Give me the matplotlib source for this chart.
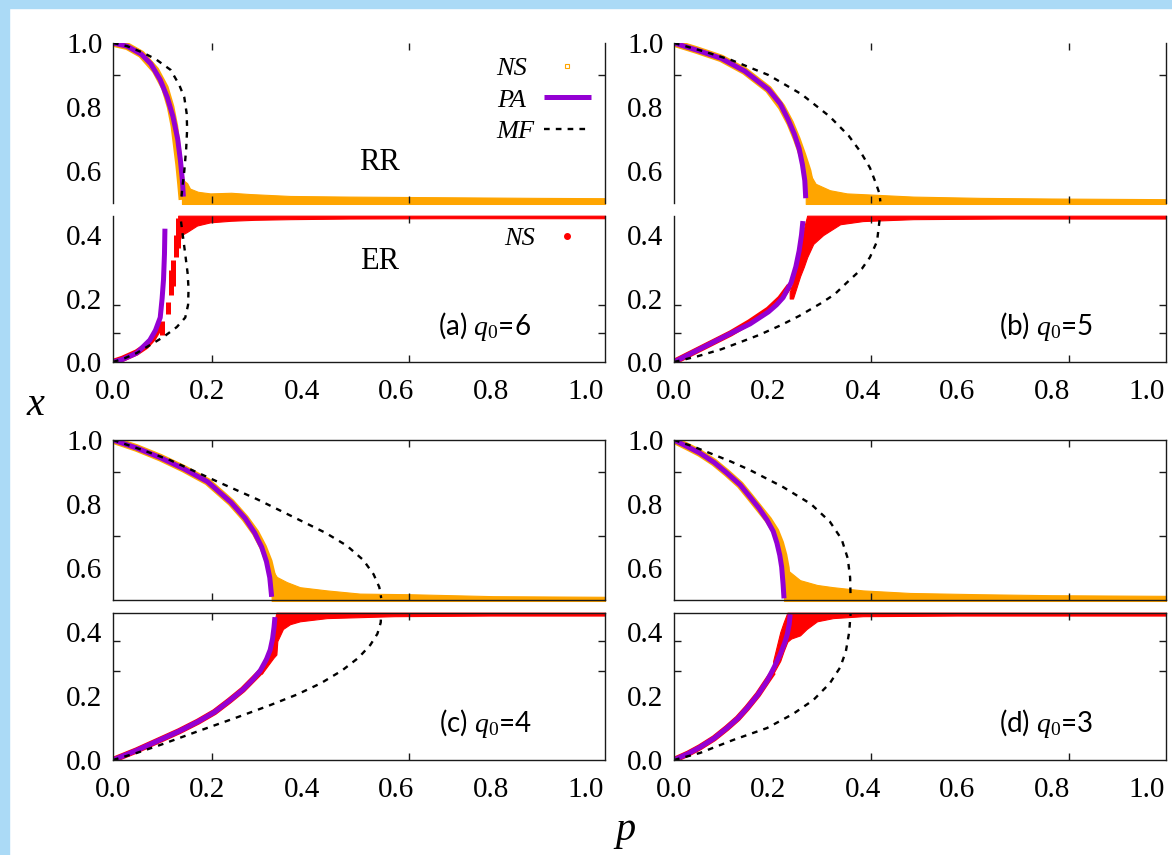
import matplotlib
matplotlib.use("Agg")
import matplotlib.pyplot as plt
from matplotlib.lines import Line2D
from matplotlib.patches import Rectangle
from matplotlib.font_manager import FontProperties

plt.rcParams['font.family'] = ['Liberation Serif', 'DejaVu Serif']
plt.rcParams['mathtext.fontset'] = 'custom'
plt.rcParams['mathtext.it'] = 'Liberation Serif:italic'
plt.rcParams['mathtext.rm'] = 'Liberation Serif'

# ---------------- data ----------------
PANEL_NAMES = ['a', 'b', 'c', 'd']
PANEL_Q0 = [6, 5, 4, 3]
X_TICKS = [0.0, 0.2, 0.4, 0.6, 0.8, 1.0]
X_TICK_LABELS = ['0.0', '0.2', '0.4', '0.6', '0.8', '1.0']
RR_TICKS = [0.6, 0.8, 1.0]
RR_TICK_LABELS = ['0.6', '0.8', '1.0']
ER_TICKS = [0.0, 0.2, 0.4]
ER_TICK_LABELS = ['0.0', '0.2', '0.4']
LEGEND_RR_LABELS = ['NS', 'PA', 'MF']
LEGEND_ER_LABELS = ['NS']

# (a) q0 = 6
PA_RR_A_P = [0, 0.03, 0.06, 0.08, 0.10, 0.115, 0.127, 0.137, 0.143, 0.147, 0.149]
PA_RR_A_X = [1.0, 0.99, 0.965, 0.935, 0.885, 0.83, 0.77, 0.70, 0.63, 0.57, 0.52]
PA_ER_A_P = [0, 0.02, 0.05, 0.078, 0.09, 0.10, 0.104, 0.107, 0.109, 0.110]
PA_ER_A_X = [0, 0.008, 0.028, 0.069, 0.10, 0.14, 0.20, 0.26, 0.34, 0.42]
MF_RR_A_P = [0, 0.03, 0.063, 0.09, 0.122, 0.14, 0.151, 0.156, 0.157, 0.155, 0.151, 0.147, 0.144]
MF_RR_A_X = [1.0, 0.99, 0.97, 0.95, 0.916, 0.87, 0.83, 0.78, 0.73, 0.67, 0.60, 0.55, 0.505]
MF_ER_A_P = [0, 0.025, 0.05, 0.078, 0.106, 0.135, 0.153, 0.159, 0.160, 0.158, 0.153, 0.146, 0.143]
MF_ER_A_X = [0, 0.012, 0.028, 0.053, 0.078, 0.11, 0.14, 0.18, 0.23, 0.28, 0.34, 0.42, 0.455]
NS_RR_A_P = [0, 0.03, 0.06, 0.09, 0.11, 0.122, 0.13, 0.135, 0.14, 0.144, 0.147]
NS_RR_A_X = [1.0, 0.99, 0.965, 0.915, 0.86, 0.80, 0.74, 0.68, 0.62, 0.56, 0.51]
NS_RR_TAIL_A_P = [0.146, 0.15, 0.157, 0.163, 0.18, 0.206, 0.25, 0.29, 0.375, 0.5, 0.7, 0.9, 1.042]
NS_RR_TAIL_A_X = [0.58, 0.57, 0.562, 0.545, 0.535, 0.53, 0.532, 0.528, 0.522, 0.52, 0.518, 0.516, 0.515]
NS_ER_A_P = [0, 0.02, 0.05, 0.07, 0.085, 0.095, 0.10]
NS_ER_A_X = [0, 0.01, 0.03, 0.05, 0.075, 0.10, 0.12]
NS_ER_SEG_A_P = [0.103, 0.116, 0.123, 0.127, 0.133, 0.137]
NS_ER_SEG_A_LO = [0.085, 0.15, 0.21, 0.24, 0.33, 0.36]
NS_ER_SEG_A_HI = [0.13, 0.19, 0.29, 0.32, 0.40, 0.455]
NS_ER_BAND_A_P = [0.138, 0.145, 0.157, 0.178, 0.206, 0.25, 0.30, 0.375, 0.5, 0.7, 1.042]
NS_ER_BAND_A_LO = [0.37, 0.40, 0.41, 0.43, 0.44, 0.445, 0.448, 0.45, 0.452, 0.453, 0.453]
NS_ER_BAND_A_HI = [0.461] * 11

# (b) q0 = 5
PA_RR_B_P = [0, 0.05, 0.10, 0.15, 0.20, 0.225, 0.242, 0.255, 0.265, 0.272, 0.277, 0.279]
PA_RR_B_X = [1.0, 0.977, 0.952, 0.912, 0.855, 0.81, 0.76, 0.715, 0.67, 0.62, 0.57, 0.515]
PA_ER_B_P = [0, 0.04, 0.08, 0.12, 0.161, 0.20, 0.217, 0.231, 0.248, 0.258, 0.265, 0.27, 0.273]
PA_ER_B_X = [0, 0.03, 0.06, 0.09, 0.12, 0.158, 0.18, 0.203, 0.25, 0.30, 0.35, 0.40, 0.444]
MF_RR_B_P = [0, 0.06, 0.121, 0.20, 0.27, 0.33, 0.37, 0.395, 0.415, 0.428, 0.435, 0.437]
MF_RR_B_X = [1.0, 0.975, 0.947, 0.90, 0.84, 0.77, 0.71, 0.66, 0.61, 0.56, 0.53, 0.505]
MF_ER_B_P = [0, 0.05, 0.10, 0.136, 0.18, 0.225, 0.265, 0.31, 0.34, 0.366, 0.398, 0.415, 0.43, 0.436]
MF_ER_B_X = [0, 0.018, 0.04, 0.06, 0.085, 0.115, 0.145, 0.184, 0.213, 0.25, 0.294, 0.33, 0.38, 0.455]
NS_RR_B_P = [0, 0.05, 0.10, 0.15, 0.20, 0.228, 0.246, 0.26, 0.272, 0.283, 0.29]
NS_RR_B_X = [1.0, 0.977, 0.952, 0.912, 0.855, 0.80, 0.75, 0.70, 0.65, 0.60, 0.55]
NS_RR_TAIL_B_P = [0.279, 0.285, 0.292, 0.30, 0.33, 0.366, 0.437, 0.507, 0.65, 0.8, 1.042]
NS_RR_TAIL_B_X = [0.58, 0.60, 0.58, 0.56, 0.54, 0.53, 0.525, 0.52, 0.516, 0.514, 0.512]
NS_ER_B_P = [0, 0.04, 0.08, 0.12, 0.16, 0.20, 0.225, 0.245]
NS_ER_B_X = [0, 0.03, 0.06, 0.09, 0.125, 0.165, 0.20, 0.24]
NS_ER_BAND_B_P = [0.245, 0.252, 0.267, 0.275, 0.282, 0.295, 0.316, 0.352, 0.40, 0.507, 0.7, 1.042]
NS_ER_BAND_B_LO = [0.20, 0.20, 0.27, 0.30, 0.33, 0.372, 0.40, 0.434, 0.444, 0.45, 0.452, 0.452]
NS_ER_BAND_B_HI = [0.22, 0.25, 0.36, 0.42, 0.461, 0.461, 0.461, 0.461, 0.461, 0.461, 0.461, 0.461]

# (c) q0 = 4
PA_RR_C_P = [0, 0.05, 0.10, 0.15, 0.20, 0.25, 0.28, 0.30, 0.315, 0.325, 0.332, 0.336]
PA_RR_C_X = [1.0, 0.975, 0.945, 0.91, 0.87, 0.805, 0.755, 0.71, 0.665, 0.62, 0.57, 0.51]
PA_ER_C_P = [0, 0.05, 0.095, 0.14, 0.18, 0.215, 0.246, 0.275, 0.297, 0.312, 0.325, 0.333, 0.338, 0.341, 0.343]
PA_ER_C_X = [0, 0.03, 0.06, 0.09, 0.12, 0.15, 0.185, 0.22, 0.253, 0.28, 0.315, 0.345, 0.38, 0.415, 0.447]
MF_RR_C_P = [0, 0.06, 0.121, 0.221, 0.305, 0.388, 0.45, 0.495, 0.53, 0.552, 0.564, 0.568]
MF_RR_C_X = [1.0, 0.97, 0.937, 0.87, 0.815, 0.755, 0.71, 0.67, 0.625, 0.58, 0.54, 0.506]
MF_ER_C_P = [0, 0.05, 0.10, 0.18, 0.26, 0.33, 0.39, 0.44, 0.485, 0.52, 0.545, 0.56, 0.567, 0.568]
MF_ER_C_X = [0, 0.022, 0.047, 0.09, 0.132, 0.17, 0.205, 0.24, 0.28, 0.32, 0.36, 0.395, 0.43, 0.458]
NS_RR_C_P = [0, 0.05, 0.10, 0.15, 0.20, 0.25, 0.28, 0.302, 0.318, 0.33, 0.338, 0.342]
NS_RR_C_X = [1.0, 0.975, 0.945, 0.91, 0.87, 0.805, 0.755, 0.71, 0.665, 0.62, 0.57, 0.51]
NS_RR_TAIL_C_P = [0.336, 0.339, 0.347, 0.368, 0.396, 0.453, 0.523, 0.63, 0.805, 1.042]
NS_RR_TAIL_C_X = [0.60, 0.59, 0.572, 0.556, 0.54, 0.53, 0.52, 0.518, 0.512, 0.51]
NS_ER_C_P = [0, 0.05, 0.095, 0.14, 0.18, 0.215, 0.246, 0.275, 0.297, 0.315]
NS_ER_C_X = [0, 0.03, 0.06, 0.09, 0.12, 0.15, 0.185, 0.22, 0.253, 0.28]
NS_ER_BAND_C_P = [0.315, 0.33, 0.34, 0.346, 0.348, 0.36, 0.375, 0.396, 0.453, 0.595, 0.8, 1.042]
NS_ER_BAND_C_LO = [0.27, 0.30, 0.32, 0.33, 0.372, 0.41, 0.425, 0.434, 0.444, 0.45, 0.452, 0.452]
NS_ER_BAND_C_HI = [0.30, 0.345, 0.42, 0.461, 0.461, 0.461, 0.461, 0.461, 0.461, 0.461, 0.461, 0.461]

# (d) q0 = 3
PA_RR_D_P = [0, 0.03, 0.055, 0.085, 0.112, 0.14, 0.161, 0.18, 0.197, 0.21, 0.218, 0.224, 0.228, 0.231, 0.233]
PA_RR_D_X = [1.0, 0.978, 0.959, 0.93, 0.897, 0.86, 0.822, 0.787, 0.75, 0.715, 0.678, 0.64, 0.603, 0.55, 0.505]
PA_ER_D_P = [0, 0.03, 0.055, 0.085, 0.112, 0.135, 0.155, 0.178, 0.197, 0.212, 0.225, 0.234, 0.24, 0.244, 0.246]
PA_ER_D_X = [0, 0.02, 0.04, 0.068, 0.10, 0.13, 0.163, 0.205, 0.247, 0.29, 0.331, 0.365, 0.394, 0.425, 0.456]
MF_RR_D_P = [0, 0.04, 0.076, 0.12, 0.161, 0.231, 0.29, 0.33, 0.355, 0.368, 0.373, 0.374]
MF_RR_D_X = [1.0, 0.98, 0.959, 0.933, 0.906, 0.853, 0.80, 0.745, 0.69, 0.63, 0.57, 0.505]
MF_ER_D_P = [0, 0.055, 0.125, 0.197, 0.252, 0.295, 0.33, 0.352, 0.364, 0.371, 0.374]
MF_ER_D_X = [0, 0.022, 0.0625, 0.10, 0.144, 0.1875, 0.24, 0.29, 0.34, 0.40, 0.458]
NS_RR_D_P = [0, 0.03, 0.055, 0.085, 0.112, 0.14, 0.161, 0.18, 0.2, 0.215, 0.225, 0.232, 0.237, 0.24]
NS_RR_D_X = [1.0, 0.978, 0.959, 0.93, 0.897, 0.86, 0.822, 0.787, 0.75, 0.715, 0.678, 0.64, 0.60, 0.55]
NS_RR_TAIL_D_P = [0.233, 0.24, 0.267, 0.303, 0.337, 0.40, 0.50, 0.65, 0.80, 1.042]
NS_RR_TAIL_D_X = [0.60, 0.594, 0.562, 0.547, 0.54, 0.53, 0.522, 0.518, 0.515, 0.513]
NS_ER_D_P = [0, 0.03, 0.055, 0.085, 0.112, 0.135, 0.155, 0.178, 0.197, 0.21]
NS_ER_D_X = [0, 0.02, 0.04, 0.068, 0.10, 0.13, 0.163, 0.205, 0.247, 0.275]
NS_ER_BAND_D_P = [0.21, 0.225, 0.232, 0.24, 0.248, 0.267, 0.281, 0.303, 0.337, 0.40, 0.60, 1.042]
NS_ER_BAND_D_LO = [0.27, 0.31, 0.34, 0.37, 0.38, 0.39, 0.41, 0.434, 0.444, 0.45, 0.452, 0.452]
NS_ER_BAND_D_HI = [0.31, 0.40, 0.43, 0.461, 0.461, 0.461, 0.461, 0.461, 0.461, 0.461, 0.461, 0.461]

# gnuplot-like tick marks (positions as they appear)
XMARKS_LEFT = [0.209, 0.627]
XMARKS_RIGHT = [0.418, 0.836]
RR_MARKS_TOP = [0.6, 0.8, 0.9]
RR_MARKS_BOTTOM = [0.7, 0.9]
ER_MARKS_TOP = [0.09, 0.18]
ER_MARKS_BOTTOM = [0.278, 0.373]

panels = {
    'a': dict(pa_rr=(PA_RR_A_P, PA_RR_A_X), pa_er=(PA_ER_A_P, PA_ER_A_X),
              mf_rr=(MF_RR_A_P, MF_RR_A_X), mf_er=(MF_ER_A_P, MF_ER_A_X),
              ns_rr=(NS_RR_A_P, NS_RR_A_X), ns_tail=(NS_RR_TAIL_A_P, NS_RR_TAIL_A_X),
              ns_er=(NS_ER_A_P, NS_ER_A_X),
              ns_band=(NS_ER_BAND_A_P, NS_ER_BAND_A_LO, NS_ER_BAND_A_HI),
              ns_seg=(NS_ER_SEG_A_P, NS_ER_SEG_A_LO, NS_ER_SEG_A_HI)),
    'b': dict(pa_rr=(PA_RR_B_P, PA_RR_B_X), pa_er=(PA_ER_B_P, PA_ER_B_X),
              mf_rr=(MF_RR_B_P, MF_RR_B_X), mf_er=(MF_ER_B_P, MF_ER_B_X),
              ns_rr=(NS_RR_B_P, NS_RR_B_X), ns_tail=(NS_RR_TAIL_B_P, NS_RR_TAIL_B_X),
              ns_er=(NS_ER_B_P, NS_ER_B_X),
              ns_band=(NS_ER_BAND_B_P, NS_ER_BAND_B_LO, NS_ER_BAND_B_HI), ns_seg=None),
    'c': dict(pa_rr=(PA_RR_C_P, PA_RR_C_X), pa_er=(PA_ER_C_P, PA_ER_C_X),
              mf_rr=(MF_RR_C_P, MF_RR_C_X), mf_er=(MF_ER_C_P, MF_ER_C_X),
              ns_rr=(NS_RR_C_P, NS_RR_C_X), ns_tail=(NS_RR_TAIL_C_P, NS_RR_TAIL_C_X),
              ns_er=(NS_ER_C_P, NS_ER_C_X),
              ns_band=(NS_ER_BAND_C_P, NS_ER_BAND_C_LO, NS_ER_BAND_C_HI), ns_seg=None),
    'd': dict(pa_rr=(PA_RR_D_P, PA_RR_D_X), pa_er=(PA_ER_D_P, PA_ER_D_X),
              mf_rr=(MF_RR_D_P, MF_RR_D_X), mf_er=(MF_ER_D_P, MF_ER_D_X),
              ns_rr=(NS_RR_D_P, NS_RR_D_X), ns_tail=(NS_RR_TAIL_D_P, NS_RR_TAIL_D_X),
              ns_er=(NS_ER_D_P, NS_ER_D_X),
              ns_band=(NS_ER_BAND_D_P, NS_ER_BAND_D_LO, NS_ER_BAND_D_HI), ns_seg=None),
}

# ---------------- style ----------------
ORANGE = '#FFA500'
RED = '#FF0000'
PURPLE = '#9400D3'
BLUE = '#ABDAF6'
TICK_FS = 21
RR_FLOOR = 0.497

W, H = 1172, 855
fig = plt.figure(figsize=(W / 100, H / 100), dpi=100)
fig.patches.append(Rectangle((0, 1 - 8 / H), 1, 8 / H, transform=fig.transFigure,
                             color=BLUE, zorder=0))
fig.patches.append(Rectangle((0, 0), 9 / W, 1, transform=fig.transFigure,
                             color=BLUE, zorder=0))


def px_axes(x0, y0, x1, y1):
    ax = fig.add_axes([x0 / W, 1 - y1 / H, (x1 - x0) / W, (y1 - y0) / H])
    ax.set_facecolor('none')
    return ax


COLS = {'left': (113, 605), 'right': (674, 1166)}
ROWS = {'top': ((43, 203), (216, 362)), 'bottom': ((440, 600), (613, 760))}
LAYOUT = {'a': ('left', 'top'), 'b': ('right', 'top'),
          'c': ('left', 'bottom'), 'd': ('right', 'bottom')}

axes = {}
for name, q0 in zip(PANEL_NAMES, PANEL_Q0):
    col, row = LAYOUT[name]
    x0, x1 = COLS[col]
    (uy0, uy1), (ly0, ly1) = ROWS[row]
    axu = px_axes(x0, uy0, x1, uy1)
    axl = px_axes(x0, ly0, x1, ly1)
    d = panels[name]

    for ax in (axu, axl):
        ax.set_xlim(0, 1.042)
        for s in ax.spines.values():
            s.set_linewidth(1.0)
            s.set_color('#1a1a1a')
        ax.set_xticks(X_TICKS)
        ax.set_xticks(XMARKS_LEFT if col == 'left' else XMARKS_RIGHT, minor=True)
        ax.tick_params(which='major', length=0)
        ax.tick_params(which='minor', direction='in', length=5, width=1,
                       top=True, bottom=True, left=True, right=True, color='#1a1a1a')
        ax.tick_params(axis='y', which='major', labelsize=TICK_FS, pad=7.5)
        ax.tick_params(axis='x', which='major', labelsize=TICK_FS, pad=12)

    axu.set_ylim(0.5, 1.0)
    axl.set_ylim(0.0, 0.46)
    axu.set_yticks(RR_TICKS, RR_TICK_LABELS)
    axl.set_yticks(ER_TICKS, ER_TICK_LABELS)
    axu.set_yticks(RR_MARKS_TOP if row == 'top' else RR_MARKS_BOTTOM, minor=True)
    axl.set_yticks(ER_MARKS_TOP if row == 'top' else ER_MARKS_BOTTOM, minor=True)
    axu.tick_params(axis='x', labelbottom=False)
    axl.set_xticklabels(X_TICK_LABELS)
    if row == 'top':
        axu.spines['top'].set_visible(False)
        axu.spines['bottom'].set_visible(False)
        axl.spines['top'].set_visible(False)

    # --- RR (upper) ---
    axu.fill_between(d['ns_tail'][0], RR_FLOOR, d['ns_tail'][1], color=ORANGE,
                     lw=0.8, zorder=1, clip_on=False)
    axu.plot(d['ns_rr'][0], d['ns_rr'][1], color=ORANGE, lw=5.5, zorder=1.2,
             solid_capstyle='butt')
    axu.plot(d['pa_rr'][0], d['pa_rr'][1], color=PURPLE, lw=3.6, zorder=2,
             solid_capstyle='butt')
    axu.plot(d['mf_rr'][0], d['mf_rr'][1], color='black', lw=1.7,
             dashes=(2.4, 2.6), zorder=2.2)

    # --- ER (lower) ---
    bp, blo, bhi = d['ns_band']
    axl.fill_between(bp, blo, bhi, color=RED, lw=0.8, zorder=1, clip_on=False)
    axl.plot(d['ns_er'][0], d['ns_er'][1], color=RED, lw=4.5, zorder=1.2,
             solid_capstyle='butt')
    if d['ns_seg'] is not None:
        sp, slo, shi = d['ns_seg']
        axl.vlines(sp, slo, shi, color=RED, lw=3.6, zorder=1.2)
    axl.plot(d['pa_er'][0], d['pa_er'][1], color=PURPLE, lw=3.6, zorder=2,
             solid_capstyle='butt')
    axl.plot(d['mf_er'][0], d['mf_er'][1], color='black', lw=1.7,
             dashes=(2.4, 2.6), zorder=2.2)

    axl.text(0.756, 0.245, '(%s) $q_0$=%d' % (name, q0), transform=axl.transAxes,
             ha='center', va='center', fontsize=20, family='Lato')
    axes[name] = (axu, axl)

# labels RR / ER and legends in panel (a)
axu, axl = axes['a']
axu.text(0.541, 0.256, 'RR', transform=axu.transAxes, ha='center', va='center',
         fontsize=22)
axl.text(0.541, 0.685, 'ER', transform=axl.transAxes, ha='center', va='center',
         fontsize=22)
leg_font = FontProperties(family='Liberation Serif', style='italic', size=19)
h_ns = Line2D([], [], ls='none', marker='s', ms=3.5, mfc='none', mec=ORANGE, mew=0.8)
h_pa = Line2D([], [], color=PURPLE, lw=3.6, solid_capstyle='butt')
h_mf = Line2D([], [], color='black', lw=1.7, dashes=(2.4, 2.6))
leg_u = axu.legend([h_ns, h_pa, h_mf], LEGEND_RR_LABELS, prop=leg_font, loc='upper right',
                   bbox_to_anchor=(0.9715, 0.915), frameon=False, markerfirst=False,
                   borderpad=0, borderaxespad=0, handlelength=1.78, handletextpad=0.35,
                   labelspacing=0.31)
h_er = Line2D([], [], ls='none', marker='o', ms=4, color=RED)
leg_l = axl.legend([h_er], LEGEND_ER_LABELS, prop=leg_font, loc='upper right',
                   bbox_to_anchor=(0.9715, 0.925), frameon=False, markerfirst=False,
                   borderpad=0, borderaxespad=0, handlelength=1.78, handletextpad=0.35)

# gnuplot keys have left-aligned texts: take each legend text's row, blank the
# legend's own text and write it again left-aligned on the same row
fig.canvas.draw()
renderer = fig.canvas.get_renderer()
for leg in (leg_u, leg_l):
    texts = leg.get_texts()
    boxes = [t.get_window_extent(renderer) for t in texts]
    left = min(bb.x0 for bb in boxes)
    for t, bb in zip(texts, boxes):
        label = t.get_text()
        t.set_text('')
        fig.text(left / fig.dpi / fig.get_figwidth(),
                 (bb.y0 + bb.y1) / 2 / fig.dpi / fig.get_figheight(),
                 label, fontproperties=leg_font, ha='left', va='center')

fig.text(35 / W, 1 - 415 / H, 'x', fontsize=29, style='italic', ha='center',
         va='baseline')
fig.text(625 / W, 1 - 840 / H, 'p', fontsize=29, style='italic', ha='center',
         va='baseline')

fig.savefig('out.png', dpi=100, facecolor='white')
